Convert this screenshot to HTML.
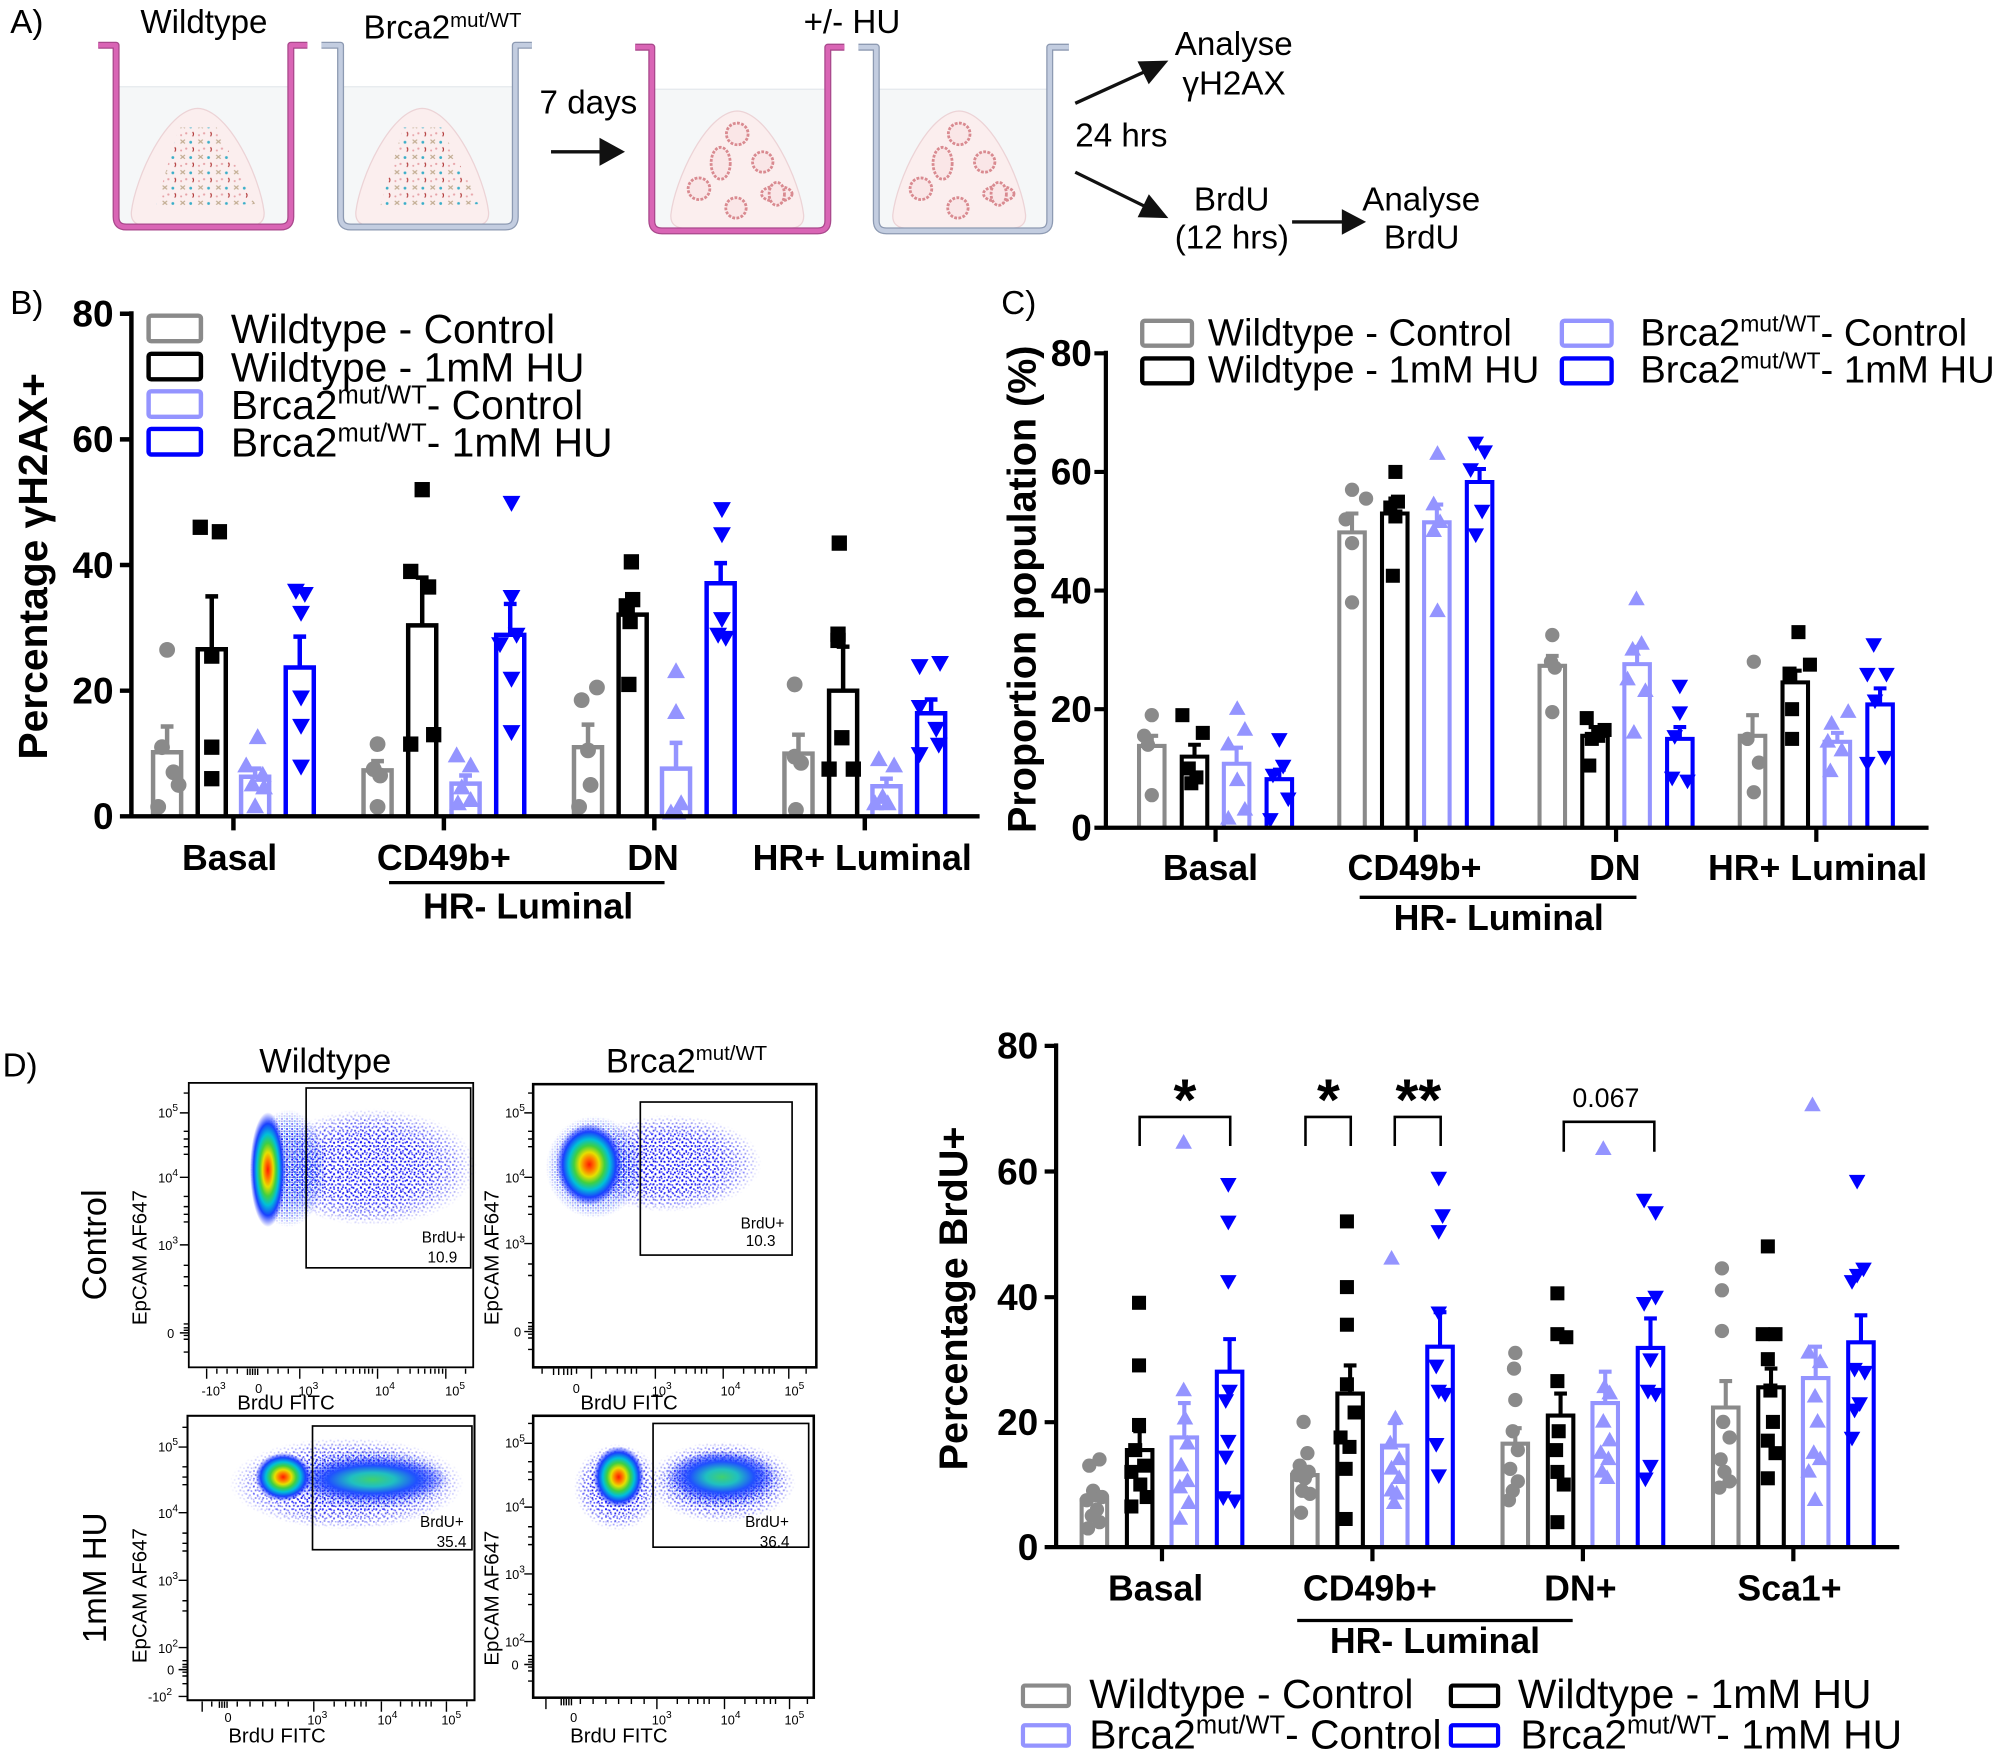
<!DOCTYPE html>
<html>
<head>
<meta charset="utf-8">
<style>
html,body{margin:0;padding:0;background:#fff;}
svg{display:block;}
text{font-family:"Liberation Sans",Arial,sans-serif;}
</style>
</head>
<body>
<svg xmlns="http://www.w3.org/2000/svg" width="2000" height="1764" viewBox="0 0 1568 1383">
<defs>
  <circle id="c1" r="6.2" fill="#8a8a8a"/>
  <rect id="s1" x="-6" y="-6" width="12" height="12" fill="#000"/>
  <path id="u1" d="M0,-7.5L7,5L-7,5Z" fill="#9494ff"/>
  <path id="d1" d="M-7,-5L7,-5L0,7.5Z" fill="#0000ff"/>
  <circle id="c2" r="5.6" fill="#8a8a8a"/>
  <rect id="s2" x="-5.5" y="-5.5" width="11" height="11" fill="#000"/>
  <path id="u2" d="M0,-7L6.5,4.5L-6.5,4.5Z" fill="#9494ff"/>
  <path id="d2" d="M-6.5,-4.5L6.5,-4.5L0,7Z" fill="#0000ff"/>

  <pattern id="spk" width="6" height="6" patternUnits="userSpaceOnUse">
    <rect x="0.4" y="0.6" width="1.4" height="1.4" fill="#0000ff"/>
    <rect x="3.3" y="1.6" width="1.3" height="1.3" fill="#1a1aff"/>
    <rect x="1.7" y="3.8" width="1.4" height="1.4" fill="#0000d8"/>
    <rect x="4.6" y="4.5" width="1.2" height="1.2" fill="#3030ff"/>
  </pattern>
  <pattern id="spk3" width="7" height="5" patternUnits="userSpaceOnUse">
    <rect x="2.2" y="0.2" width="1.2" height="1.2" fill="#0000ee"/>
    <rect x="5.5" y="2.6" width="1.2" height="1.2" fill="#2020ff"/>
    <rect x="0.3" y="3.3" width="1.1" height="1.1" fill="#4040ff"/>
  </pattern>
  <pattern id="spk2" width="4" height="4" patternUnits="userSpaceOnUse">
    <rect x="0.3" y="0.4" width="1.5" height="1.5" fill="#0a0aff"/>
    <rect x="2.3" y="2.2" width="1.5" height="1.5" fill="#2a5aff"/>
    <rect x="2.6" y="0.2" width="1" height="1" fill="#20b0ff"/>
    <rect x="0.5" y="2.6" width="1" height="1" fill="#1a1ad0"/>
  </pattern>
  <radialGradient id="fade">
    <stop offset="0" stop-color="#fff"/>
    <stop offset="0.55" stop-color="#eee"/>
    <stop offset="0.82" stop-color="#777"/>
    <stop offset="1" stop-color="#000"/>
  </radialGradient>
  <mask id="mk" maskContentUnits="objectBoundingBox">
    <rect x="0" y="0" width="1" height="1" fill="url(#fade)"/>
  </mask>
  <radialGradient id="core">
    <stop offset="0" stop-color="#ff1a00"/>
    <stop offset="0.16" stop-color="#ff7a00"/>
    <stop offset="0.3" stop-color="#e6e000"/>
    <stop offset="0.46" stop-color="#40d040"/>
    <stop offset="0.62" stop-color="#00c0d8"/>
    <stop offset="0.8" stop-color="#1a40ff"/>
    <stop offset="1" stop-color="#2030ff" stop-opacity="0"/>
  </radialGradient>
  <radialGradient id="band">
    <stop offset="0" stop-color="#40d070"/>
    <stop offset="0.3" stop-color="#20c0c0"/>
    <stop offset="0.6" stop-color="#2050ff"/>
    <stop offset="1" stop-color="#2030ff" stop-opacity="0"/>
  </radialGradient>
  <pattern id="cel" width="14" height="12" patternUnits="userSpaceOnUse">
    <path d="M1.5,1.5l3.5,3M5,1.5l-3.5,3" stroke="#c2ad92" stroke-width="1"/>
    <circle cx="9.5" cy="3.5" r="1.1" fill="#3aaec8"/>
    <circle cx="6" cy="8.5" r="0.9" fill="#e7a3a8"/>
    <path d="M11,7.5q1.4,1.6 0,3.4" stroke="#b03434" stroke-width="0.9" fill="none"/>
    <circle cx="2" cy="10" r="0.8" fill="#e7a3a8"/>
  </pattern>
</defs>

<!-- ================= PANEL A ================= -->
<g font-size="26" fill="#000">
  <text x="8" y="26">A)</text>
  <text x="110" y="26">Wildtype</text>
  <text x="285" y="30">Brca2<tspan font-size="16" dy="-9">mut/WT</tspan></text>
  <text x="630" y="26">+/- HU</text>
  <text x="423" y="89">7 days</text>
  <text x="921" y="43">Analyse</text>
  <text x="927" y="74">γH2AX</text>
  <text x="843" y="115">24 hrs</text>
  <text x="936" y="165">BrdU</text>
  <text x="921" y="195">(12 hrs)</text>
  <text x="1068" y="165">Analyse</text>
  <text x="1085" y="195">BrdU</text>
</g>
<!-- wells -->
<g>
  <rect x="93" y="68" width="133" height="108" fill="#f5f7f8"/>
  <line x1="93" y1="68" x2="226" y2="68" stroke="#e4e9ed" stroke-width="1"/>
  <path d="M103,166C106,140 130,86 155,85C180,86 204,140 207,166Q208,177 195,177L115,177Q102,177 103,166Z" fill="#fbeeee" stroke="#ecd3d6" stroke-width="1"/>
  <path d="M140,100L170,100L200,160L122,162Z" fill="url(#cel)"/>
  <path d="M77,35.5H91V170Q91,178 99,178H220Q228,178 228,170V35.5H241" fill="none" stroke="#a9488c" stroke-width="5.5" stroke-linejoin="round"/>
  <path d="M77,35.5H91V170Q91,178 99,178H220Q228,178 228,170V35.5H241" fill="none" stroke="#d965b5" stroke-width="3.5" stroke-linejoin="round"/>

  <rect x="269" y="68" width="133" height="108" fill="#f5f7f8"/>
  <line x1="269" y1="68" x2="402" y2="68" stroke="#e4e9ed" stroke-width="1"/>
  <path d="M279,166C282,140 306,86 331,85C356,86 380,140 383,166Q384,177 371,177L291,177Q278,177 279,166Z" fill="#fbeeee" stroke="#ecd3d6" stroke-width="1"/>
  <path d="M316,100L346,100L376,160L298,162Z" fill="url(#cel)"/>
  <path d="M252,35.5H267V170Q267,178 275,178H396Q404,178 404,170V35.5H417" fill="none" stroke="#8d9ab2" stroke-width="5.5" stroke-linejoin="round"/>
  <path d="M252,35.5H267V170Q267,178 275,178H396Q404,178 404,170V35.5H417" fill="none" stroke="#c3cde0" stroke-width="3.5" stroke-linejoin="round"/>

  <rect x="513" y="70" width="134" height="109" fill="#f5f7f8"/>
  <line x1="513" y1="70" x2="647" y2="70" stroke="#e4e9ed" stroke-width="1"/>
  <path d="M526,168C529,142 553,88 578,87C603,88 627,142 630,168Q631,179 618,179L538,179Q525,179 526,168Z" fill="#fbeeee" stroke="#ecd3d6" stroke-width="1"/>
  <path d="M498,37H511V173Q511,181 519,181H641Q649,181 649,173V37H662" fill="none" stroke="#a9488c" stroke-width="5.5" stroke-linejoin="round"/>
  <path d="M498,37H511V173Q511,181 519,181H641Q649,181 649,173V37H662" fill="none" stroke="#d965b5" stroke-width="3.5" stroke-linejoin="round"/>

  <rect x="689" y="70" width="132" height="109" fill="#f5f7f8"/>
  <line x1="689" y1="70" x2="821" y2="70" stroke="#e4e9ed" stroke-width="1"/>
  <path d="M700,168C703,142 727,88 752,87C777,88 801,142 804,168Q805,179 792,179L712,179Q699,179 700,168Z" fill="#fbeeee" stroke="#ecd3d6" stroke-width="1"/>
  <path d="M673,37H687V173Q687,181 695,181H815Q823,181 823,173V37H838" fill="none" stroke="#8d9ab2" stroke-width="5.5" stroke-linejoin="round"/>
  <path d="M673,37H687V173Q687,181 695,181H815Q823,181 823,173V37H838" fill="none" stroke="#c3cde0" stroke-width="3.5" stroke-linejoin="round"/>
</g>
<!-- organoids -->
<g fill="#fae6e7" stroke="#d98a90" stroke-width="2.2" stroke-dasharray="2.2 1.1">
  <circle cx="578" cy="105" r="8.5"/>
  <circle cx="598" cy="127" r="8"/>
  <circle cx="548" cy="148" r="8.5"/>
  <circle cx="577" cy="163" r="8"/>
  <ellipse cx="565" cy="128" rx="7.5" ry="12.5"/>
  <ellipse cx="609" cy="152" rx="12" ry="6"/>
  <ellipse cx="609" cy="152" rx="6" ry="9"/>
  <circle cx="752" cy="105" r="8.5"/>
  <circle cx="772" cy="127" r="8"/>
  <circle cx="722" cy="148" r="8.5"/>
  <circle cx="751" cy="163" r="8"/>
  <ellipse cx="739" cy="128" rx="7.5" ry="12.5"/>
  <ellipse cx="783" cy="152" rx="12" ry="6"/>
  <ellipse cx="783" cy="152" rx="6" ry="9"/>
</g>
<!-- arrows -->
<g stroke="#111" stroke-width="2.6" fill="#111">
  <line x1="432" y1="119" x2="472" y2="119"/>
  <path d="M470,108L490,119L470,130Z" stroke="none"/>
  <line x1="843" y1="81" x2="898" y2="56"/>
  <path d="M916,47.5L900.6,66.1L891.8,48.1Z" stroke="none"/>
  <line x1="843" y1="135" x2="898" y2="162"/>
  <path d="M916,171L891.9,170.3L900.7,152.3Z" stroke="none"/>
  <line x1="1013" y1="174" x2="1054" y2="174"/>
  <path d="M1052,164L1071,174L1052,184Z" stroke="none"/>
</g>

<!-- ================= PANEL B ================= -->
<text x="8" y="246" font-size="26">B)</text>
<text transform="translate(37,444) rotate(-90)" text-anchor="middle" font-size="32" font-weight="bold">Percentage γH2AX+</text>
<g font-size="29" font-weight="bold" text-anchor="end">
  <text x="89" y="256">80</text><text x="89" y="354.5">60</text><text x="89" y="453">40</text><text x="89" y="551.5">20</text><text x="89" y="650">0</text>
</g>
<!-- legend B -->
<g fill="none" stroke-width="3.5">
  <rect x="116.5" y="247.5" width="41" height="20" rx="2" stroke="#8a8a8a"/>
  <rect x="116.5" y="277.4" width="41" height="20" rx="2" stroke="#000"/>
  <rect x="116.5" y="306.8" width="41" height="20" rx="2" stroke="#9494ff"/>
  <rect x="116.5" y="336.3" width="41" height="20" rx="2" stroke="#0000ff"/>
</g>
<g font-size="32">
  <text x="181" y="269">Wildtype - Control</text>
  <text x="181" y="299">Wildtype - 1mM HU</text>
  <text x="181" y="328.5">Brca2<tspan font-size="20" dy="-12">mut/WT</tspan><tspan dy="12">- Control</tspan></text>
  <text x="181" y="358">Brca2<tspan font-size="20" dy="-12">mut/WT</tspan><tspan dy="12">- 1mM HU</tspan></text>
</g>
<!-- bars B -->
<g fill="none" stroke-width="3.5">
  <path stroke="#8a8a8a" d="M120,640V589.8H142V640M285,640V604H307V640M450,640V585.8H472V640M615,640V590.8H637V640M131,589.8V569.6M126,569.6H136M296,604V596.7M291,596.7H301M461,585.8V568.1M456,568.1H466M626,590.8V576M621,576H631"/>
  <path stroke="#000" d="M155,640V509H177V640M320,640V490.3H342V640M485,640V481.9H507V640M650,640V541.5H672V640M166,509V467.6M161,467.6H171M331,490.3V452.9M326,452.9H336M496,481.9V472M491,472H501M661,541.5V507M656,507H666"/>
  <path stroke="#9494ff" d="M189,640V609H211V640M354,640V614.4H376V640M519,640V602.6H541V640M684,640V616.4H706V640M200,609V602.6M195,602.6H205M365,614.4V608M360,608H370M530,602.6V582.4M525,582.4H535M695,616.4V610.5M690,610.5H700"/>
  <path stroke="#0000ff" d="M224,640V523.3H246V640M389,640V497.7H411V640M554,640V457.3H576V640M719,640V559.2H741V640M235,523.3V499.1M230,499.1H240M400,497.7V473.5M395,473.5H405M565,457.3V441.5M560,441.5H570M730,559.2V548.4M725,548.4H735"/>
</g>
<!-- points B -->
<g>
  <use href="#c1" x="131" y="509.5"/><use href="#c1" x="127" y="585.8"/><use href="#c1" x="136" y="605.5"/><use href="#c1" x="140" y="615.4"/><use href="#c1" x="124" y="632.6"/>
  <use href="#c1" x="296" y="583.4"/><use href="#c1" x="293" y="603"/><use href="#c1" x="298" y="608"/><use href="#c1" x="296" y="632.6"/>
  <use href="#c1" x="468" y="539"/><use href="#c1" x="456" y="548.9"/><use href="#c1" x="461" y="588.3"/><use href="#c1" x="463" y="615.4"/><use href="#c1" x="454" y="632.6"/>
  <use href="#c1" x="623" y="536.6"/><use href="#c1" x="623" y="593.2"/><use href="#c1" x="628" y="598.1"/><use href="#c1" x="624" y="635"/>

  <use href="#s1" x="157" y="413.4"/><use href="#s1" x="172" y="416.9"/><use href="#s1" x="166" y="514.4"/><use href="#s1" x="166" y="585.8"/><use href="#s1" x="166" y="610.5"/>
  <use href="#s1" x="331" y="383.9"/><use href="#s1" x="322" y="448"/><use href="#s1" x="336" y="460.2"/><use href="#s1" x="340" y="576"/><use href="#s1" x="322" y="583.4"/>
  <use href="#s1" x="495" y="440.5"/><use href="#s1" x="496" y="470.1"/><use href="#s1" x="491" y="475"/><use href="#s1" x="494" y="487.3"/><use href="#s1" x="493" y="536.6"/>
  <use href="#s1" x="658" y="425.8"/><use href="#s1" x="657" y="497.2"/><use href="#s1" x="657" y="502.1"/><use href="#s1" x="660" y="578.4"/><use href="#s1" x="650" y="603"/><use href="#s1" x="669" y="603"/>

  <use href="#u1" x="202" y="578.4"/><use href="#u1" x="193" y="600.6"/><use href="#u1" x="206" y="608"/><use href="#u1" x="198" y="615.4"/><use href="#u1" x="207" y="617.8"/><use href="#u1" x="200" y="632.6"/>
  <use href="#u1" x="358" y="592.7"/><use href="#u1" x="369" y="600.6"/><use href="#u1" x="362" y="617.8"/><use href="#u1" x="369" y="627.7"/><use href="#u1" x="359" y="630.2"/>
  <use href="#u1" x="530" y="526.7"/><use href="#u1" x="530" y="558.7"/><use href="#u1" x="534" y="630.2"/><use href="#u1" x="526" y="637.5"/><use href="#u1" x="531" y="637.5"/>
  <use href="#u1" x="689" y="595.7"/><use href="#u1" x="701" y="600.6"/><use href="#u1" x="692" y="625.2"/><use href="#u1" x="696" y="630.2"/><use href="#u1" x="686" y="630.2"/>

  <use href="#d1" x="232" y="462.7"/><use href="#d1" x="239" y="465.2"/><use href="#d1" x="236" y="480"/><use href="#d1" x="236" y="546.4"/><use href="#d1" x="236" y="568.6"/><use href="#d1" x="236" y="600.6"/>
  <use href="#d1" x="401" y="393.8"/><use href="#d1" x="401" y="467.6"/><use href="#d1" x="405" y="497.2"/><use href="#d1" x="392" y="504.6"/><use href="#d1" x="401" y="531.7"/><use href="#d1" x="401" y="573.5"/>
  <use href="#d1" x="566" y="398.7"/><use href="#d1" x="566" y="418.4"/><use href="#d1" x="566" y="484.9"/><use href="#d1" x="563" y="497.2"/><use href="#d1" x="569" y="499.6"/>
  <use href="#d1" x="721" y="521.8"/><use href="#d1" x="737" y="519.3"/><use href="#d1" x="721" y="553.8"/><use href="#d1" x="734" y="571"/><use href="#d1" x="736" y="583.4"/><use href="#d1" x="721" y="590.8"/>
</g>
<!-- axes B -->
<path d="M103,244V641.7M101.3,640H768M94,246H103M94,344.5H103M94,443H103M94,541.5H103M94,640H103M183,640V651M348,640V651M513,640V651M678,640V651" stroke="#000" stroke-width="3.5" fill="none"/>
<g font-size="28" font-weight="bold" text-anchor="middle">
  <text x="180" y="682">Basal</text><text x="348" y="682">CD49b+</text><text x="512" y="682">DN</text><text x="676" y="682">HR+ Luminal</text>
  <text x="414" y="720">HR- Luminal</text>
</g>
<path d="M305,692H521" stroke="#000" stroke-width="2.6"/>

<!-- ================= PANEL C ================= -->
<text x="785" y="246" font-size="26">C)</text>
<text transform="translate(812,462) rotate(-90)" text-anchor="middle" font-size="31" font-weight="bold">Proportion population (%)</text>
<g font-size="29" font-weight="bold" text-anchor="end">
  <text x="856" y="287">80</text><text x="856" y="380">60</text><text x="856" y="473">40</text><text x="856" y="566">20</text><text x="856" y="659">0</text>
</g>
<g fill="none" stroke-width="3.4">
  <rect x="895.5" y="251.5" width="39" height="19.5" rx="2" stroke="#8a8a8a"/>
  <rect x="895.5" y="281" width="39" height="19.5" rx="2" stroke="#000"/>
  <rect x="1224.5" y="251.5" width="39" height="19.5" rx="2" stroke="#9494ff"/>
  <rect x="1224.5" y="281" width="39" height="19.5" rx="2" stroke="#0000ff"/>
</g>
<g font-size="30">
  <text x="947" y="271">Wildtype - Control</text>
  <text x="947" y="300">Wildtype - 1mM HU</text>
  <text x="1286" y="271">Brca2<tspan font-size="18" dy="-11">mut/WT</tspan><tspan dy="11">- Control</tspan></text>
  <text x="1286" y="300">Brca2<tspan font-size="18" dy="-11">mut/WT</tspan><tspan dy="11">- 1mM HU</tspan></text>
</g>
<g fill="none" stroke-width="3.2">
  <path stroke="#8a8a8a" d="M893,649V584.8H913V649M1050,649V417.4H1070V649M1207,649V522H1227V649M1364,649V576.9H1384V649M903,584.8V576.9M898,576.9H908M1060,417.4V402.6M1055,402.6H1065M1217,522V514.2M1212,514.2H1222M1374,576.9V560.7M1369,560.7H1379"/>
  <path stroke="#000" d="M926.5,649V593.2H946.5V649M1083.5,649V402.6H1103.5V649M1240.5,649V576.9H1260.5V649M1397.5,649V535H1417.5V649M936.5,593.2V583.9M931.5,583.9H941.5M1093.5,402.6V390.9M1088.5,390.9H1098.5M1250.5,576.9V570M1245.5,570H1255.5M1407.5,535V525.8M1402.5,525.8H1412.5"/>
  <path stroke="#9494ff" d="M959.5,649V598.8H979.5V649M1116.5,649V409.5H1136.5V649M1273.5,649V520.7H1293.5V649M1430.5,649V581.6H1450.5V649M969.5,598.8V586.2M964.5,586.2H974.5M1126.5,409.5V395.6M1121.5,395.6H1131.5M1283.5,520.7V507.2M1278.5,507.2H1288.5M1440.5,581.6V574.6M1435.5,574.6H1445.5"/>
  <path stroke="#0000ff" d="M993,649V610.9H1013V649M1150,649V377.9H1170V649M1307,649V579.3H1327V649M1464,649V552.3H1484V649M1003,610.9V603.4M998,603.4H1008M1160,377.9V367.7M1155,367.7H1165M1317,579.3V570M1312,570H1322M1474,552.3V539.7M1469,539.7H1479"/>
</g>
<g>
  <use href="#c2" x="903" y="560.7"/><use href="#c2" x="897" y="576.9"/><use href="#c2" x="900" y="583.9"/><use href="#c2" x="903" y="623.4"/>
  <use href="#c2" x="1060" y="384"/><use href="#c2" x="1071" y="390.9"/><use href="#c2" x="1055" y="407.2"/><use href="#c2" x="1060" y="425.8"/><use href="#c2" x="1060" y="472.3"/>
  <use href="#c2" x="1217" y="497.9"/><use href="#c2" x="1216" y="518.8"/><use href="#c2" x="1219" y="523.4"/><use href="#c2" x="1217" y="558.3"/>
  <use href="#c2" x="1375" y="518.8"/><use href="#c2" x="1370" y="579.3"/><use href="#c2" x="1379" y="597.9"/><use href="#c2" x="1375" y="621.1"/>

  <use href="#s2" x="927" y="560.7"/><use href="#s2" x="943" y="574.6"/><use href="#s2" x="932" y="602.5"/><use href="#s2" x="938" y="609.5"/><use href="#s2" x="934" y="614.1"/>
  <use href="#s2" x="1094" y="370"/><use href="#s2" x="1096" y="393.3"/><use href="#s2" x="1090" y="397.9"/><use href="#s2" x="1094" y="404.9"/><use href="#s2" x="1092" y="451.4"/>
  <use href="#s2" x="1244" y="563"/><use href="#s2" x="1258" y="572.3"/><use href="#s2" x="1253" y="576.9"/><use href="#s2" x="1248" y="579.3"/><use href="#s2" x="1246" y="600.2"/>
  <use href="#s2" x="1410" y="495.6"/><use href="#s2" x="1419" y="521.1"/><use href="#s2" x="1403" y="528.1"/><use href="#s2" x="1405" y="556"/><use href="#s2" x="1405" y="579.3"/>

  <use href="#u2" x="970" y="556"/><use href="#u2" x="976" y="572.3"/><use href="#u2" x="963" y="583.9"/><use href="#u2" x="970" y="611.8"/><use href="#u2" x="976" y="635"/><use href="#u2" x="963" y="642"/>
  <use href="#u2" x="1127" y="356"/><use href="#u2" x="1124" y="395.6"/><use href="#u2" x="1129" y="409.5"/><use href="#u2" x="1124" y="416.5"/><use href="#u2" x="1127" y="479.3"/>
  <use href="#u2" x="1283" y="470"/><use href="#u2" x="1287" y="504.9"/><use href="#u2" x="1280" y="509.5"/><use href="#u2" x="1276" y="532.8"/><use href="#u2" x="1290" y="542"/><use href="#u2" x="1281" y="574.6"/>
  <use href="#u2" x="1449" y="558.3"/><use href="#u2" x="1436" y="567.6"/><use href="#u2" x="1433" y="581.6"/><use href="#u2" x="1444" y="588.5"/><use href="#u2" x="1435" y="604.8"/>

  <use href="#d2" x="1003" y="579.3"/><use href="#d2" x="1006" y="600.2"/><use href="#d2" x="998" y="607.2"/><use href="#d2" x="1010" y="625.8"/><use href="#d2" x="996" y="642"/>
  <use href="#d2" x="1157" y="346.8"/><use href="#d2" x="1164" y="353.7"/><use href="#d2" x="1153" y="367.7"/><use href="#d2" x="1162" y="400.2"/><use href="#d2" x="1157" y="418.8"/>
  <use href="#d2" x="1317" y="537.4"/><use href="#d2" x="1317" y="558.3"/><use href="#d2" x="1313" y="576.9"/><use href="#d2" x="1311" y="609.5"/><use href="#d2" x="1323" y="611.8"/>
  <use href="#d2" x="1469" y="504.9"/><use href="#d2" x="1464" y="528.1"/><use href="#d2" x="1479" y="528.1"/><use href="#d2" x="1470" y="549"/><use href="#d2" x="1478" y="593.2"/><use href="#d2" x="1464" y="597.9"/>
</g>
<path d="M867,275V650.6M865.4,649H1512M858,277H867M858,370H867M858,463H867M858,556H867M858,649H867M953,649V660M1110,649V660M1267,649V660M1424,649V660" stroke="#000" stroke-width="3.3" fill="none"/>
<g font-size="28" font-weight="bold" text-anchor="middle">
  <text x="949" y="690">Basal</text><text x="1109" y="690">CD49b+</text><text x="1266" y="690">DN</text><text x="1425" y="690">HR+ Luminal</text>
  <text x="1175" y="729">HR- Luminal</text>
</g>
<path d="M1066,703.5H1283" stroke="#000" stroke-width="2.6"/>

<!-- ================= PANEL D (flow) ================= -->
<text x="2" y="844" font-size="26">D)</text>
<text x="255" y="841" font-size="27" text-anchor="middle">Wildtype</text>
<text x="475" y="841" font-size="27">Brca2<tspan font-size="16" dy="-10">mut/WT</tspan></text>
<text transform="translate(83,976) rotate(-90)" text-anchor="middle" font-size="27">Control</text>
<text transform="translate(83,1237) rotate(-90)" text-anchor="middle" font-size="26">1mM HU</text>

<!-- clouds P1 -->
<ellipse cx="292" cy="915" rx="82" ry="46" fill="url(#spk)" mask="url(#mk)"/>
<ellipse cx="286" cy="916" rx="76" ry="44" fill="url(#spk3)" mask="url(#mk)"/>
<ellipse cx="226" cy="916" rx="30" ry="46" fill="url(#spk2)" mask="url(#mk)"/>
<ellipse cx="210" cy="917" rx="14" ry="45" fill="url(#core)"/>
<!-- P2 -->
<ellipse cx="525" cy="912" rx="72" ry="38" fill="url(#spk)" mask="url(#mk)"/>
<ellipse cx="520" cy="914" rx="66" ry="36" fill="url(#spk3)" mask="url(#mk)"/>
<ellipse cx="466" cy="915" rx="38" ry="40" fill="url(#spk2)" mask="url(#mk)"/>
<ellipse cx="462" cy="913" rx="26" ry="32" fill="url(#core)"/>
<!-- P3 -->
<ellipse cx="272" cy="1163" rx="92" ry="36" fill="url(#spk)" mask="url(#mk)"/>
<ellipse cx="272" cy="1165" rx="86" ry="34" fill="url(#spk3)" mask="url(#mk)"/>
<ellipse cx="290" cy="1160" rx="64" ry="24" fill="url(#spk2)" mask="url(#mk)"/>
<ellipse cx="292" cy="1160" rx="58" ry="18" fill="url(#band)"/>
<ellipse cx="222" cy="1158" rx="22" ry="19" fill="url(#core)"/>
<!-- P4 -->
<ellipse cx="484" cy="1166" rx="34" ry="34" fill="url(#spk)" mask="url(#mk)"/>
<ellipse cx="484" cy="1166" rx="32" ry="32" fill="url(#spk3)" mask="url(#mk)"/>
<ellipse cx="566" cy="1162" rx="58" ry="32" fill="url(#spk)" mask="url(#mk)"/>
<ellipse cx="566" cy="1162" rx="54" ry="30" fill="url(#spk3)" mask="url(#mk)"/>
<ellipse cx="566" cy="1160" rx="48" ry="24" fill="url(#spk2)" mask="url(#mk)"/>
<ellipse cx="566" cy="1158" rx="42" ry="20" fill="url(#band)"/>
<ellipse cx="485" cy="1158" rx="20" ry="24" fill="url(#core)"/>

<!-- frames & gates -->
<g fill="none" stroke="#000">
  <rect x="148" y="849" width="223" height="223" stroke-width="1.4"/>
  <rect x="240" y="853" width="129" height="141" stroke-width="1.3"/>
  <rect x="418" y="850" width="222" height="222" stroke-width="2"/>
  <rect x="502" y="864" width="119" height="120" stroke-width="1.3"/>
  <rect x="147" y="1110" width="225" height="223" stroke-width="1.6"/>
  <rect x="245" y="1118" width="125" height="97" stroke-width="1.3"/>
  <rect x="418" y="1110" width="220" height="221" stroke-width="2"/>
  <rect x="512" y="1116" width="122" height="97" stroke-width="1.3"/>
</g>
<!-- ticks flow -->
<g stroke="#000" stroke-width="1.1" fill="none">
  <path d="M141,872.5H148M141,923H148M141,976H148M141,1045H148M144,857H148M144,887H148M144,893H148M144,899H148M144,905H148M144,938H148M144,946H148M144,952H148M144,958H148M144,992H148M144,1001H148M144,1008H148M144,1038H148M144,1041H148M144,1043H148M144,1047H148M144,1050H148M144,1060H148"/>
  <path d="M162,1073V1081M235,1073V1081M296,1073V1081M349.5,1073V1081M170,1073V1077M178,1073V1077M186,1073V1077M194,1073V1078M196,1073V1078M198,1073V1078M200,1073V1078M202,1073V1078M210,1073V1077M218,1073V1077M226,1073V1077M253,1073V1077M263.6,1073V1077M271,1073V1077M277,1073V1077M282,1073V1077M286,1073V1077M289,1073V1077M292,1073V1077M312,1073V1077M321.5,1073V1077M328,1073V1077M333,1073V1077M337.6,1073V1077M341,1073V1077M344,1073V1077M347,1073V1077M365,1073V1077"/>
  <path d="M411,872.5H418M411,923H418M411,975H418M411,1044H418M414,857H418M414,887H418M414,893H418M414,899H418M414,938H418M414,946H418M414,952H418M414,991H418M414,1000H418M414,1037H418M414,1040H418M414,1042H418M414,1046H418M414,1049H418M414,1058H418"/>
  <path d="M463.7,1073V1081M513.8,1073V1081M567,1073V1081M618.4,1073V1081M434,1073V1078M438,1073V1078M442,1073V1078M445,1073V1078M448,1073V1078M452,1073V1077M425,1073V1077M475,1073V1077M484,1073V1077M490,1073V1077M495,1073V1077M499,1073V1077M529,1073V1077M538,1073V1077M545,1073V1077M550,1073V1077M554,1073V1077M583,1073V1077M592,1073V1077M598,1073V1077M603,1073V1077M607,1073V1077M632,1073V1077"/>
  <path d="M140,1134.5H147M140,1186H147M140,1239H147M140,1291.7H147M140,1309H147M140,1330H147M143,1119H147M143,1150H147M143,1158H147M143,1164H147M143,1202H147M143,1210H147M143,1216H147M143,1255H147M143,1263H147M143,1302H147M143,1305H147M143,1307H147M143,1311H147M143,1314H147M143,1320H147"/>
  <path d="M158.5,1334V1342M246,1334V1342M299,1334V1342M350,1334V1342M172,1334V1339M174,1334V1339M176,1334V1339M178,1334V1339M166,1334V1338M186,1334V1338M196,1334V1338M206,1334V1338M216,1334V1338M226,1334V1338M262,1334V1338M271,1334V1338M278,1334V1338M283,1334V1338M287,1334V1338M314,1334V1338M323,1334V1338M329,1334V1338M334,1334V1338M338,1334V1338M366,1334V1338"/>
  <path d="M411,1131.6H418M411,1181.6H418M411,1234H418M411,1287H418M411,1305H418M414,1116H418M414,1146H418M414,1154H418M414,1160H418M414,1197H418M414,1205H418M414,1211H418M414,1250H418M414,1258H418M414,1298H418M414,1301H418M414,1303H418M414,1307H418M414,1310H418M414,1318H418"/>
  <path d="M428,1332V1340M515,1332V1340M568,1332V1340M619,1332V1340M440,1332V1337M442,1332V1337M444,1332V1337M446,1332V1337M448,1332V1337M455,1332V1336M465,1332V1336M475,1332V1336M485,1332V1336M495,1332V1336M505,1332V1336M531,1332V1336M540,1332V1336M547,1332V1336M552,1332V1336M556,1332V1336M584,1332V1336M593,1332V1336M599,1332V1336M604,1332V1336M608,1332V1336M633,1332V1336"/>
</g>
<!-- flow tick labels -->
<g font-size="10" fill="#000">
  <text x="124" y="876">10<tspan font-size="8" dy="-5">5</tspan></text>
  <text x="124" y="927">10<tspan font-size="8" dy="-5">4</tspan></text>
  <text x="124" y="980">10<tspan font-size="8" dy="-5">3</tspan></text>
  <text x="131" y="1049">0</text>
  <text x="158" y="1094">-10<tspan font-size="8" dy="-5">3</tspan></text>
  <text x="200" y="1092">0</text>
  <text x="234" y="1094">10<tspan font-size="8" dy="-5">3</tspan></text>
  <text x="294" y="1094">10<tspan font-size="8" dy="-5">4</tspan></text>
  <text x="349" y="1094">10<tspan font-size="8" dy="-5">5</tspan></text>

  <text x="396" y="876">10<tspan font-size="8" dy="-5">5</tspan></text>
  <text x="396" y="927">10<tspan font-size="8" dy="-5">4</tspan></text>
  <text x="396" y="979">10<tspan font-size="8" dy="-5">3</tspan></text>
  <text x="403" y="1048">0</text>
  <text x="449" y="1092">0</text>
  <text x="511" y="1094">10<tspan font-size="8" dy="-5">3</tspan></text>
  <text x="565" y="1094">10<tspan font-size="8" dy="-5">4</tspan></text>
  <text x="615" y="1094">10<tspan font-size="8" dy="-5">5</tspan></text>

  <text x="124" y="1138">10<tspan font-size="8" dy="-5">5</tspan></text>
  <text x="124" y="1190">10<tspan font-size="8" dy="-5">4</tspan></text>
  <text x="124" y="1243">10<tspan font-size="8" dy="-5">3</tspan></text>
  <text x="124" y="1296">10<tspan font-size="8" dy="-5">2</tspan></text>
  <text x="131" y="1313">0</text>
  <text x="116" y="1334">-10<tspan font-size="8" dy="-5">2</tspan></text>
  <text x="176" y="1350">0</text>
  <text x="241" y="1352">10<tspan font-size="8" dy="-5">3</tspan></text>
  <text x="296" y="1352">10<tspan font-size="8" dy="-5">4</tspan></text>
  <text x="346" y="1352">10<tspan font-size="8" dy="-5">5</tspan></text>

  <text x="396" y="1135">10<tspan font-size="8" dy="-5">5</tspan></text>
  <text x="396" y="1185">10<tspan font-size="8" dy="-5">4</tspan></text>
  <text x="396" y="1238">10<tspan font-size="8" dy="-5">3</tspan></text>
  <text x="396" y="1291">10<tspan font-size="8" dy="-5">2</tspan></text>
  <text x="401" y="1309">0</text>
  <text x="447" y="1350">0</text>
  <text x="511" y="1352">10<tspan font-size="8" dy="-5">3</tspan></text>
  <text x="565" y="1352">10<tspan font-size="8" dy="-5">4</tspan></text>
  <text x="615" y="1352">10<tspan font-size="8" dy="-5">5</tspan></text>
</g>
<g font-size="16">
  <text transform="translate(115,986) rotate(-90)" text-anchor="middle">EpCAM  AF647</text>
  <text transform="translate(391,986) rotate(-90)" text-anchor="middle">EpCAM  AF647</text>
  <text transform="translate(115,1251) rotate(-90)" text-anchor="middle">EpCAM AF647</text>
  <text transform="translate(391,1253) rotate(-90)" text-anchor="middle">EpCAM AF647</text>
  <text x="186" y="1105">BrdU FITC</text>
  <text x="455" y="1105">BrdU FITC</text>
  <text x="179" y="1366">BrdU FITC</text>
  <text x="447" y="1366">BrdU FITC</text>
</g>
<g font-size="12" text-anchor="end">
  <text x="365" y="974">BrdU+</text><text x="358.5" y="990">10.9</text>
  <text x="615" y="963">BrdU+</text><text x="608" y="977">10.3</text>
  <text x="363.6" y="1197">BrdU+</text><text x="365.7" y="1213">35.4</text>
  <text x="618.5" y="1197">BrdU+</text><text x="619" y="1213">36.4</text>
</g>

<!-- ================= PANEL D (bar chart) ================= -->
<text transform="translate(758,1018) rotate(-90)" text-anchor="middle" font-size="31" font-weight="bold">Percentage BrdU+</text>
<g font-size="29" font-weight="bold" text-anchor="end">
  <text x="814" y="830">80</text><text x="814" y="928.5">60</text><text x="814" y="1027">40</text><text x="814" y="1125">20</text><text x="814" y="1223">0</text>
</g>
<g fill="none" stroke-width="3.2">
  <path stroke="#8a8a8a" d="M848,1213V1176.2H868V1213M1013,1213V1156.5H1033V1213M1178,1213V1131.9H1198V1213M1343,1213V1103.5H1363V1213M858,1176.2V1169.8M853,1169.8H863M1023,1156.5V1150.1M1018,1150.1H1028M1188,1131.9V1119.7M1183,1119.7H1193M1353,1103.5V1082.8M1348,1082.8H1358"/>
  <path stroke="#000" d="M883.5,1213V1136.9H903.5V1213M1048.5,1213V1092.6H1068.5V1213M1213.5,1213V1109.8H1233.5V1213M1378.5,1213V1087.7H1398.5V1213M893.5,1136.9V1122.1M888.5,1122.1H898.5M1058.5,1092.6V1070.5M1053.5,1070.5H1063.5M1223.5,1109.8V1092.6M1218.5,1092.6H1228.5M1388.5,1087.7V1073M1383.5,1073H1393.5"/>
  <path stroke="#9494ff" d="M918.5,1213V1127H938.5V1213M1083.5,1213V1133.4H1103.5V1213M1248.5,1213V1100H1268.5V1213M1413.5,1213V1080.4H1433.5V1213M928.5,1127V1100M923.5,1100H933.5M1093.5,1133.4V1115.7M1088.5,1115.7H1098.5M1258.5,1100V1075.4M1253.5,1075.4H1263.5M1423.5,1080.4V1055.8M1418.5,1055.8H1428.5"/>
  <path stroke="#0000ff" d="M954,1213V1075.4H974V1213M1119,1213V1055.8H1139V1213M1284,1213V1056.8H1304V1213M1449,1213V1052.4H1469V1213M964,1075.4V1049.9M959,1049.9H969M1129,1055.8V1028.8M1124,1028.8H1134M1294,1056.8V1033.7M1289,1033.7H1299M1459,1052.4V1031.2M1454,1031.2H1464"/>
</g>
<g>
  <use href="#c2" x="862" y="1144.2"/><use href="#c2" x="854" y="1149.1"/><use href="#c2" x="857" y="1168.8"/><use href="#c2" x="864" y="1173.7"/><use href="#c2" x="852" y="1176.2"/><use href="#c2" x="860" y="1183.5"/><use href="#c2" x="856" y="1188.4"/><use href="#c2" x="862" y="1193.4"/><use href="#c2" x="853" y="1198.3"/>
  <use href="#c2" x="1022" y="1114.8"/><use href="#c2" x="1025" y="1139.3"/><use href="#c2" x="1019" y="1149.1"/><use href="#c2" x="1026" y="1154"/><use href="#c2" x="1017" y="1156.5"/><use href="#c2" x="1023" y="1159"/><use href="#c2" x="1021" y="1168.8"/><use href="#c2" x="1027" y="1171.2"/><use href="#c2" x="1020" y="1186"/>
  <use href="#c2" x="1188" y="1060.7"/><use href="#c2" x="1187" y="1073"/><use href="#c2" x="1188" y="1097.6"/><use href="#c2" x="1186" y="1122.1"/><use href="#c2" x="1190" y="1136.9"/><use href="#c2" x="1184" y="1151.6"/><use href="#c2" x="1190" y="1161.4"/><use href="#c2" x="1186" y="1168.8"/><use href="#c2" x="1183" y="1176.2"/>
  <use href="#c2" x="1350" y="994.4"/><use href="#c2" x="1350" y="1011.6"/><use href="#c2" x="1350" y="1043.5"/><use href="#c2" x="1351" y="1114.8"/><use href="#c2" x="1356" y="1127"/><use href="#c2" x="1349" y="1144.2"/><use href="#c2" x="1352" y="1154"/><use href="#c2" x="1356" y="1161.4"/><use href="#c2" x="1348" y="1166.3"/>

  <use href="#s2" x="893" y="1021.4"/><use href="#s2" x="893" y="1070.5"/><use href="#s2" x="893" y="1117.2"/><use href="#s2" x="890" y="1136.9"/><use href="#s2" x="897" y="1149.1"/><use href="#s2" x="887" y="1154"/><use href="#s2" x="894" y="1163.9"/><use href="#s2" x="899" y="1173.7"/><use href="#s2" x="887" y="1181.1"/>
  <use href="#s2" x="1056" y="957.6"/><use href="#s2" x="1056" y="1009.1"/><use href="#s2" x="1056" y="1038.6"/><use href="#s2" x="1056" y="1085.3"/><use href="#s2" x="1062" y="1107.4"/><use href="#s2" x="1051" y="1127"/><use href="#s2" x="1058" y="1134.4"/><use href="#s2" x="1055" y="1151.6"/><use href="#s2" x="1055" y="1190.9"/>
  <use href="#s2" x="1221" y="1014"/><use href="#s2" x="1221" y="1046"/><use href="#s2" x="1228" y="1048.4"/><use href="#s2" x="1221" y="1082.8"/><use href="#s2" x="1222" y="1122.1"/><use href="#s2" x="1220" y="1136.9"/><use href="#s2" x="1221" y="1154"/><use href="#s2" x="1226" y="1163.9"/><use href="#s2" x="1221" y="1193.4"/>
  <use href="#s2" x="1386" y="977.2"/><use href="#s2" x="1382" y="1046"/><use href="#s2" x="1392" y="1046"/><use href="#s2" x="1386" y="1065.6"/><use href="#s2" x="1388" y="1090.2"/><use href="#s2" x="1390" y="1114.8"/><use href="#s2" x="1386" y="1129.5"/><use href="#s2" x="1392" y="1139.3"/><use href="#s2" x="1386" y="1159"/>

  <use href="#u2" x="928" y="896.1"/><use href="#u2" x="928" y="1090.2"/><use href="#u2" x="929" y="1112.3"/><use href="#u2" x="931" y="1131.9"/><use href="#u2" x="926" y="1149.1"/><use href="#u2" x="931" y="1161.4"/><use href="#u2" x="925" y="1166.3"/><use href="#u2" x="932" y="1178.6"/><use href="#u2" x="925" y="1190.9"/>
  <use href="#u2" x="1091" y="987"/><use href="#u2" x="1094" y="1112.3"/><use href="#u2" x="1090" y="1131.9"/><use href="#u2" x="1097" y="1144.2"/><use href="#u2" x="1091" y="1151.6"/><use href="#u2" x="1097" y="1159"/><use href="#u2" x="1091" y="1168.8"/><use href="#u2" x="1095" y="1171.2"/><use href="#u2" x="1093" y="1178.6"/>
  <use href="#u2" x="1257" y="901"/><use href="#u2" x="1258" y="1087.7"/><use href="#u2" x="1262" y="1092.6"/><use href="#u2" x="1257" y="1114.8"/><use href="#u2" x="1262" y="1129.5"/><use href="#u2" x="1255" y="1139.3"/><use href="#u2" x="1261" y="1144.2"/><use href="#u2" x="1256" y="1154"/><use href="#u2" x="1260" y="1159"/>
  <use href="#u2" x="1421" y="866.7"/><use href="#u2" x="1418" y="1060.7"/><use href="#u2" x="1427" y="1068.1"/><use href="#u2" x="1423" y="1095.1"/><use href="#u2" x="1425" y="1114.8"/><use href="#u2" x="1422" y="1139.3"/><use href="#u2" x="1427" y="1144.2"/><use href="#u2" x="1418" y="1154"/><use href="#u2" x="1423" y="1176.2"/>

  <use href="#d2" x="963" y="928.1"/><use href="#d2" x="963" y="957.6"/><use href="#d2" x="963" y="1004.2"/><use href="#d2" x="964" y="1090.2"/><use href="#d2" x="961" y="1097.6"/><use href="#d2" x="963" y="1129.5"/><use href="#d2" x="961" y="1141.8"/><use href="#d2" x="959" y="1173.7"/><use href="#d2" x="968" y="1176.2"/>
  <use href="#d2" x="1128" y="923.2"/><use href="#d2" x="1131" y="952.6"/><use href="#d2" x="1128" y="965"/><use href="#d2" x="1128" y="1028.8"/><use href="#d2" x="1126" y="1070.5"/><use href="#d2" x="1128" y="1090.2"/><use href="#d2" x="1133" y="1092.6"/><use href="#d2" x="1126" y="1131.9"/><use href="#d2" x="1128" y="1156.5"/>
  <use href="#d2" x="1289" y="940.4"/><use href="#d2" x="1298" y="950.2"/><use href="#d2" x="1298" y="1016.5"/><use href="#d2" x="1289" y="1021.4"/><use href="#d2" x="1294" y="1065.6"/><use href="#d2" x="1292" y="1090.2"/><use href="#d2" x="1298" y="1092.6"/><use href="#d2" x="1294" y="1149.1"/><use href="#d2" x="1290" y="1159"/>
  <use href="#d2" x="1456" y="925.6"/><use href="#d2" x="1461" y="994.4"/><use href="#d2" x="1456" y="999.3"/><use href="#d2" x="1452" y="1004.2"/><use href="#d2" x="1454" y="1073"/><use href="#d2" x="1462" y="1075.4"/><use href="#d2" x="1458" y="1100"/><use href="#d2" x="1454" y="1105"/><use href="#d2" x="1452" y="1127"/>
</g>
<path d="M828,818V1214.6M826.4,1213H1489M819,820H828M819,918.5H828M819,1017H828M819,1115H828M819,1213H828M911,1213V1224M1076,1213V1224M1241,1213V1224M1406,1213V1224" stroke="#000" stroke-width="3.3" fill="none"/>
<!-- significance -->
<path d="M893.5,898.5V875.7H964.5V898.5M1023.5,898.5V875.7H1059V898.5M1093.5,898.5V875.7H1129.5V898.5M1226,903V879.5H1297V903" stroke="#000" stroke-width="2" fill="none"/>
<g font-size="46" font-weight="bold" text-anchor="middle">
  <text x="929" y="878">*</text>
  <text x="1041.5" y="878">*</text>
  <text x="1112" y="878">**</text>
</g>
<text x="1259" y="868" font-size="21" text-anchor="middle">0.067</text>
<g font-size="28" font-weight="bold" text-anchor="middle">
  <text x="906" y="1255">Basal</text><text x="1074" y="1255">CD49b+</text><text x="1239" y="1255">DN+</text><text x="1403" y="1255">Sca1+</text>
  <text x="1125" y="1296">HR- Luminal</text>
</g>
<path d="M1017,1270.5H1233" stroke="#000" stroke-width="2.6"/>
<!-- legend D -->
<g fill="none" stroke-width="3.3">
  <rect x="802" y="1321.5" width="36" height="16" rx="1.5" stroke="#8a8a8a"/>
  <rect x="1137.5" y="1321.5" width="37" height="16" rx="1.5" stroke="#000"/>
  <rect x="802" y="1352.6" width="36" height="16" rx="1.5" stroke="#9494ff"/>
  <rect x="1137.5" y="1352.6" width="37" height="16" rx="1.5" stroke="#0000ff"/>
</g>
<g font-size="32">
  <text x="854" y="1339">Wildtype - Control</text>
  <text x="1190" y="1339">Wildtype - 1mM HU</text>
  <text x="854" y="1371">Brca2<tspan font-size="20" dy="-12">mut/WT</tspan><tspan dy="12">- Control</tspan></text>
  <text x="1192" y="1371">Brca2<tspan font-size="20" dy="-12">mut/WT</tspan><tspan dy="12">- 1mM HU</tspan></text>
</g>
</svg>
</body>
</html>
